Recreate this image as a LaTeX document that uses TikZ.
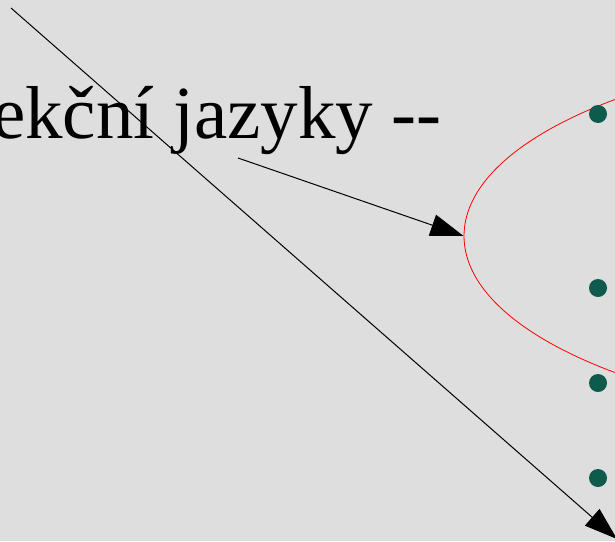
\documentclass[tikz,border=0pt]{standalone}
\usepackage{fontspec}
\setmainfont{Liberation Serif}
\usetikzlibrary{arrows.meta,shapes.geometric}
\definecolor{bg}{HTML}{DEDEDE}
\definecolor{dotgreen}{HTML}{0E5B4E}
\tikzset{
  bullet/.style={circle,fill=dotgreen,inner sep=0pt,minimum size=18pt},
  conn/.style={draw=black,line width=1pt,-{Triangle[length=33pt,width=22pt]}},
  redell/.style={draw=red,line width=0.8pt,ellipse,inner sep=0pt,minimum width=1004pt,minimum height=382pt},
  title/.style={font=\fontsize{75}{90}\selectfont,inner sep=0pt,anchor=base east}
}
\begin{document}
\begin{tikzpicture}[x=1pt,y=-1pt]
\useasboundingbox (0,0) rectangle (615,541);
\fill[bg] (0,0) rectangle (615,541);
\clip (0,0) rectangle (615,541);
\node[title] (ttl) at (442,138) {Projekční jazyky -{}-};
\node[redell] (ell) at (966,236) {};
\node[bullet] (d1) at (598,114) {};
\node[bullet] (d2) at (598,288) {};
\node[bullet] (d3) at (598,383) {};
\node[bullet] (d4) at (598,478) {};
\coordinate (a0) at (238,158);
\draw[conn] (a0) -- (ell.west);
\coordinate (l0) at (11,8);
\coordinate (l1) at (617,539);
\draw[conn] (l0) -- (l1);
\end{tikzpicture}
\end{document}
